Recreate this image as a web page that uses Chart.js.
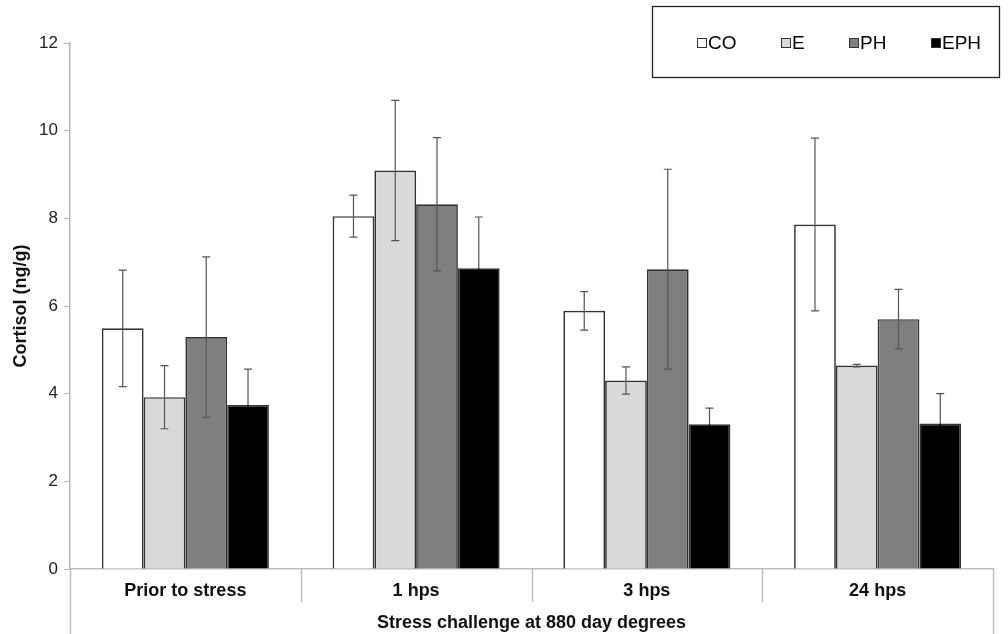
<!DOCTYPE html>
<html>
<head>
<meta charset="utf-8">
<title>Cortisol after stress challenge</title>
<script src="https://cdn.jsdelivr.net/npm/chart.js@4/dist/chart.umd.min.js"></script>
<style>
  html, body { margin: 0; padding: 0; background: #fff; }
  #wrap { width: 1008px; height: 634px; position: relative; }
</style>
</head>
<body>
<div id="wrap"><canvas id="c"></canvas></div>
<script>
// Sampling points after the stress challenge
const categories = ['Prior to stress', '1 hps', '3 hps', '24 hps'];

// Mean cortisol (ng/g) per treatment group
const coValues  = [5.49, 8.05, 5.89, 7.86];
const eValues   = [3.92, 9.09, 4.30, 4.64];
const phValues  = [5.29, 8.32, 6.84, 5.70];
const ephValues = [3.74, 6.86, 3.30, 3.32];

// Error (± half-range of the whiskers)
const coErr  = [1.33, 0.48, 0.44, 1.97];
const eErr   = [0.72, 1.60, 0.31, 0.03];
const phErr  = [1.83, 1.52, 2.28, 0.68];
const ephErr = [0.82, 1.17, 0.37, 0.68];

const seriesNames = ['CO', 'E', 'PH', 'EPH'];
const yTicks = [0, 2, 4, 6, 8, 10, 12];

const fills = ['#ffffff', '#d9d9d9', '#7f7f7f', '#000000'];
const errors = [coErr, eErr, phErr, ephErr];
const values = [coValues, eValues, phValues, ephValues];

const datasets = seriesNames.map((name, i) => ({
  label: name,
  data: values[i],
  backgroundColor: fills[i],
  borderColor: '#333333',
  borderWidth: 1.7,
  barPercentage: 1,
  categoryPercentage: 0.724,
  errors: errors[i],
  // whisker colour where it runs inside the bar
  innerWhisker: i === 3 ? '#000000' : '#555555'
}));

// Category dividers below the x axis, whiskers and the boxed legend
const decorations = {
  id: 'decorations',
  afterDatasetsDraw(chart) {
    const ctx = chart.ctx;
    const y = chart.scales.y;
    ctx.save();
    ctx.lineWidth = 1.2;
    chart.data.datasets.forEach((ds, d) => {
      const meta = chart.getDatasetMeta(d);
      meta.data.forEach((bar, i) => {
        const v = ds.data[i], e = ds.errors[i];
        const yTop = y.getPixelForValue(v + e);
        const yMid = y.getPixelForValue(v);
        const yBot = y.getPixelForValue(v - e);
        const x = bar.x;
        ctx.strokeStyle = '#555555';
        ctx.beginPath();
        ctx.moveTo(x, yTop); ctx.lineTo(x, yMid);
        ctx.moveTo(x - 4, yTop); ctx.lineTo(x + 4, yTop);
        ctx.stroke();
        ctx.strokeStyle = ds.innerWhisker;
        ctx.beginPath();
        ctx.moveTo(x, yMid); ctx.lineTo(x, yBot);
        ctx.moveTo(x - 4, yBot); ctx.lineTo(x + 4, yBot);
        ctx.stroke();
      });
    });
    ctx.restore();
  },
  afterDraw(chart) {
    const ctx = chart.ctx;
    const xs = chart.scales.x;
    const area = chart.chartArea;
    const n = categories.length;
    const step = (xs.right - xs.left) / n;
    ctx.save();
    ctx.strokeStyle = '#bdbdbd';
    ctx.lineWidth = 1.5;
    for (let i = 0; i <= n; i++) {
      const x = Math.round(xs.left + i * step) + 0.5;
      const outer = (i === 0 || i === n);
      ctx.beginPath();
      ctx.moveTo(x, area.bottom);
      ctx.lineTo(x, outer ? chart.height : area.bottom + 33);
      ctx.stroke();
    }

    // Legend box
    const bx = 652.5, by = 6.5, bw = 347, bh = 71;
    ctx.fillStyle = '#ffffff';
    ctx.fillRect(bx, by, bw, bh);
    ctx.strokeStyle = '#222222';
    ctx.lineWidth = 1.3;
    ctx.strokeRect(bx, by, bw, bh);
    const itemX = [697, 781, 849, 931];
    const cy = 43;
    ctx.font = '19px "Liberation Sans", Arial, sans-serif';
    ctx.textBaseline = 'middle';
    ctx.textAlign = 'left';
    chart.data.datasets.forEach((ds, i) => {
      const sx = itemX[i];
      ctx.fillStyle = ds.backgroundColor;
      ctx.fillRect(sx + 0.5, cy - 4.5, 9, 9);
      ctx.strokeStyle = '#333333';
      ctx.lineWidth = 1;
      ctx.strokeRect(sx + 0.5, cy - 4.5, 9, 9);
      ctx.fillStyle = '#000000';
      ctx.fillText(ds.label, sx + 11, cy + 1);
    });
    ctx.restore();
  }
};

new Chart(document.getElementById('c'), {
  type: 'bar',
  data: { labels: categories, datasets },
  plugins: [decorations],
  options: {
    responsive: true,
    maintainAspectRatio: false,
    animation: false,
    devicePixelRatio: 1,
    layout: { padding: { top: 43, right: 15, left: 0, bottom: 0 } },
    plugins: { legend: { display: false }, tooltip: { enabled: false } },
    scales: {
      x: {
        afterFit(scale) { scale.height = 65; },
        grid: { display: true, drawOnChartArea: false, drawTicks: false },
        border: { display: true, color: '#bdbdbd', width: 1.5 },
        ticks: {
          padding: 11,
          color: '#111111',
          font: { family: '"Liberation Sans", Arial, sans-serif', size: 18, weight: 'bold' }
        },
        title: {
          display: true,
          text: 'Stress challenge at 880 day degrees',
          color: '#111111',
          padding: { top: 1, bottom: 0 },
          font: { family: '"Liberation Sans", Arial, sans-serif', size: 18, weight: 'bold' }
        }
      },
      y: {
        min: 0,
        max: 12,
        afterFit(scale) { scale.width = 70; },
        afterBuildTicks(scale) { scale.ticks = yTicks.map(v => ({ value: v })); },
        grid: { display: true, drawOnChartArea: false, drawTicks: true, tickLength: 6, color: '#b5b5b5' },
        border: { display: true, color: '#b5b5b5', width: 1.5 },
        ticks: {
          padding: 6,
          color: '#222222',
          font: { family: '"Liberation Sans", Arial, sans-serif', size: 17 }
        },
        title: {
          display: true,
          text: 'Cortisol (ng/g)',
          color: '#111111',
          padding: { top: 10, bottom: 0 },
          font: { family: '"Liberation Sans", Arial, sans-serif', size: 18, weight: 'bold' }
        }
      }
    }
  }
});
</script>
</body>
</html>
